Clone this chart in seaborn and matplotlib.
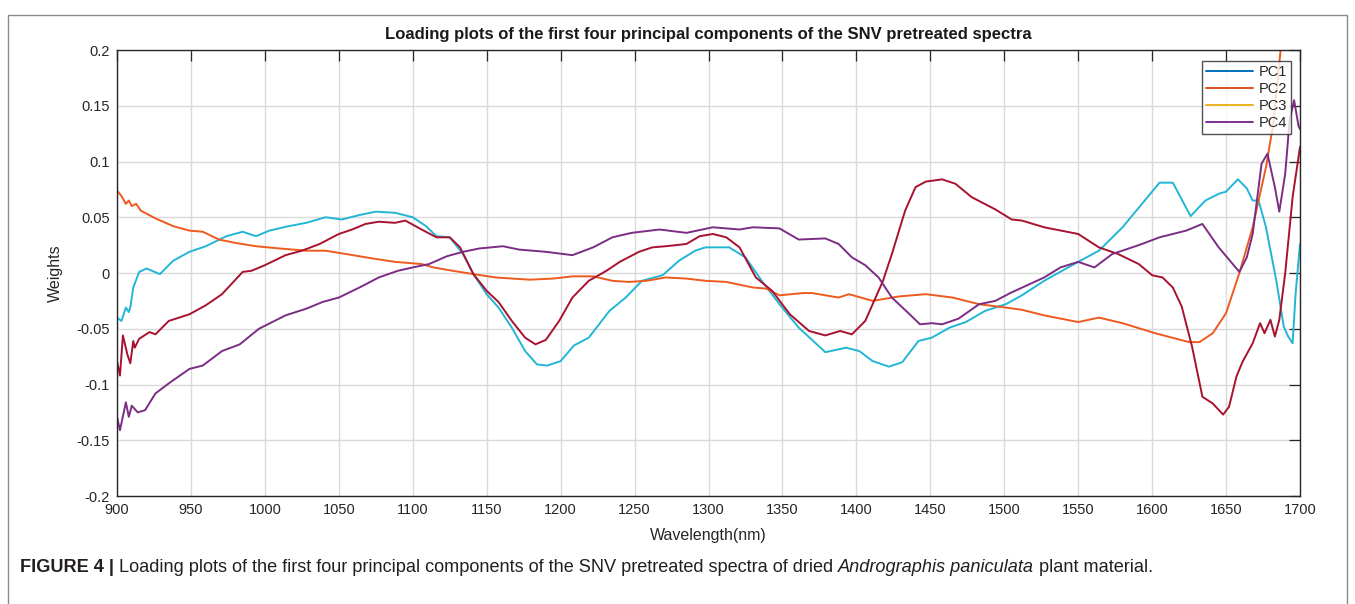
import numpy as np
import matplotlib
matplotlib.use("Agg")
import matplotlib.pyplot as plt
from matplotlib.lines import Line2D
from matplotlib.patches import Rectangle
import seaborn as sns

# loadings (wavelength in nm, weight)
pc1_nm = [900, 903, 906, 908, 909, 911, 915, 920, 929, 938, 949, 960, 974, 985, 994, 1003, 1016, 1028, 1041, 1052,
          1064, 1075, 1088, 1100, 1109, 1116, 1125, 1134, 1141, 1150, 1158, 1167, 1176, 1184, 1191, 1200, 1209, 1219,
          1233, 1244, 1255, 1269, 1280, 1291, 1298, 1314, 1325, 1336, 1348, 1361, 1379, 1393, 1402, 1411, 1422, 1431,
          1442, 1451, 1463, 1474, 1487, 1501, 1512, 1527, 1550, 1564, 1580, 1595, 1605, 1614, 1626, 1636, 1645, 1650,
          1658, 1664, 1668, 1672, 1677, 1684, 1689, 1692, 1695, 1697, 1700]
pc1_w = [-0.040, -0.043, -0.031, -0.035, -0.031, -0.013, 0.001, 0.004, -0.001, 0.011, 0.019, 0.024, 0.033, 0.037,
         0.033, 0.038, 0.042, 0.045, 0.050, 0.048, 0.052, 0.055, 0.054, 0.050, 0.042, 0.033, 0.032, 0.017, -0.001,
         -0.019, -0.031, -0.049, -0.070, -0.082, -0.083, -0.079, -0.065, -0.058, -0.034, -0.022, -0.007, -0.002,
         0.011, 0.020, 0.023, 0.023, 0.014, -0.007, -0.028, -0.049, -0.071, -0.067, -0.070, -0.079, -0.084, -0.080,
         -0.061, -0.058, -0.049, -0.044, -0.034, -0.028, -0.020, -0.007, 0.010, 0.020, 0.041, 0.065, 0.081, 0.081,
         0.051, 0.065, 0.071, 0.073, 0.084, 0.076, 0.065, 0.065, 0.041, -0.007, -0.048, -0.057, -0.063, -0.019, 0.026]

pc2_nm = [900, 903, 906, 908, 910, 913, 916, 926, 938, 949, 958, 969, 980, 994, 1010, 1028, 1041, 1055, 1073, 1088,
          1106, 1114, 1127, 1141, 1156, 1179, 1195, 1208, 1222, 1235, 1246, 1258, 1271, 1285, 1298, 1312, 1330, 1339,
          1348, 1364, 1370, 1388, 1395, 1411, 1429, 1447, 1465, 1483, 1501, 1512, 1527, 1550, 1564, 1580, 1602, 1625,
          1632, 1641, 1650, 1659, 1668, 1677, 1682, 1688]
pc2_w = [0.074, 0.069, 0.062, 0.065, 0.060, 0.062, 0.056, 0.049, 0.042, 0.038, 0.037, 0.030, 0.027, 0.024, 0.022,
         0.020, 0.020, 0.017, 0.013, 0.010, 0.008, 0.005, 0.002, -0.001, -0.004, -0.006, -0.005, -0.003, -0.003,
         -0.007, -0.008, -0.007, -0.004, -0.005, -0.007, -0.008, -0.013, -0.014, -0.020, -0.018, -0.018, -0.022,
         -0.019, -0.025, -0.021, -0.019, -0.022, -0.028, -0.031, -0.033, -0.038, -0.044, -0.040, -0.045, -0.054,
         -0.062, -0.062, -0.054, -0.036, 0.000, 0.041, 0.095, 0.134, 0.215]

pc3_nm = [900, 902, 904, 907, 909, 911, 912, 915, 922, 926, 935, 949, 960, 971, 985, 991, 1000, 1014, 1025, 1037,
          1050, 1059, 1068, 1077, 1088, 1095, 1106, 1116, 1125, 1132, 1141, 1150, 1158, 1167, 1176, 1183, 1190, 1199,
          1208, 1219, 1231, 1240, 1253, 1262, 1271, 1285, 1294, 1303, 1312, 1321, 1332, 1343, 1355, 1368, 1379, 1389,
          1397, 1406, 1413, 1418, 1424, 1433, 1440, 1447, 1458, 1467, 1478, 1494, 1505, 1512, 1527, 1550, 1564, 1577,
          1591, 1600, 1607, 1614, 1620, 1627, 1634, 1641, 1648, 1652, 1657, 1661, 1668, 1673, 1676, 1680, 1683, 1686,
          1690, 1695, 1700]
pc3_w = [-0.079, -0.092, -0.056, -0.073, -0.081, -0.061, -0.067, -0.059, -0.053, -0.055, -0.043, -0.037, -0.029,
         -0.019, 0.001, 0.002, 0.007, 0.016, 0.020, 0.026, 0.035, 0.039, 0.044, 0.046, 0.045, 0.047, 0.039, 0.032,
         0.032, 0.023, -0.001, -0.016, -0.026, -0.043, -0.058, -0.064, -0.060, -0.043, -0.022, -0.007, 0.002, 0.010,
         0.019, 0.023, 0.024, 0.026, 0.033, 0.035, 0.032, 0.023, -0.004, -0.016, -0.037, -0.052, -0.056, -0.052,
         -0.055, -0.043, -0.022, -0.007, 0.017, 0.056, 0.077, 0.082, 0.084, 0.080, 0.068, 0.057, 0.048, 0.047, 0.041,
         0.035, 0.023, 0.017, 0.008, -0.002, -0.004, -0.013, -0.030, -0.066, -0.111, -0.117, -0.127, -0.120, -0.093,
         -0.080, -0.063, -0.045, -0.054, -0.042, -0.057, -0.042, 0.000, 0.068, 0.113]

pc4_nm = [900, 902, 906, 908, 910, 914, 919, 926, 935, 949, 958, 971, 983, 996, 1014, 1028, 1039, 1050, 1064, 1077,
          1090, 1100, 1111, 1123, 1134, 1145, 1161, 1172, 1190, 1208, 1222, 1235, 1248, 1267, 1285, 1303, 1321, 1330,
          1348, 1361, 1379, 1388, 1397, 1406, 1415, 1424, 1436, 1443, 1451, 1458, 1469, 1483, 1494, 1504, 1527, 1538,
          1550, 1561, 1573, 1591, 1605, 1623, 1634, 1645, 1659, 1664, 1668, 1674, 1678, 1683, 1686, 1690, 1693, 1696,
          1699, 1700]
pc4_w = [-0.129, -0.141, -0.116, -0.129, -0.119, -0.125, -0.123, -0.108, -0.099, -0.086, -0.083, -0.070, -0.064,
         -0.050, -0.038, -0.032, -0.026, -0.022, -0.013, -0.004, 0.002, 0.005, 0.008, 0.015, 0.019, 0.022, 0.024,
         0.021, 0.019, 0.016, 0.023, 0.032, 0.036, 0.039, 0.036, 0.041, 0.039, 0.041, 0.040, 0.030, 0.031, 0.026,
         0.014, 0.007, -0.004, -0.022, -0.037, -0.046, -0.045, -0.046, -0.041, -0.028, -0.025, -0.018, -0.004, 0.005,
         0.010, 0.005, 0.017, 0.025, 0.032, 0.038, 0.044, 0.023, 0.001, 0.014, 0.035, 0.098, 0.107, 0.077, 0.055,
         0.089, 0.137, 0.155, 0.132, 0.129]

labels = ["PC1", "PC2", "PC3", "PC4"]
line_colors = ["#22B6D6", "#EE5A1E", "#A8122E", "#7B2D84"]
legend_colors = ["#0072BD", "#D95319", "#EDB120", "#7E2F8E"]

sns.set_style("white")
plt.rcParams["font.family"] = ["Liberation Sans", "DejaVu Sans"]

fig = plt.figure(figsize=(13.55, 6.04), dpi=100)
ax = fig.add_axes([117 / 1355, 1 - 496 / 604, 1183 / 1355, 446 / 604])

series = [(pc1_nm, pc1_w), (pc2_nm, pc2_w), (pc3_nm, pc3_w), (pc4_nm, pc4_w)]
for (nm, w), c in zip(series, line_colors):
    sns.lineplot(x=np.array(nm), y=np.array(w), ax=ax, color=c, linewidth=1.4, estimator=None, legend=False)

ax.set_xlim(900, 1700)
ax.set_ylim(-0.2, 0.2)
ax.set_xticks(np.arange(900, 1701, 50))
ax.set_yticks(np.arange(-0.2, 0.201, 0.05))
ax.set_yticklabels(["-0.2", "-0.15", "-0.1", "-0.05", "0", "0.05", "0.1", "0.15", "0.2"])
ax.grid(True, color="#DADADA", linewidth=1)
ax.tick_params(direction="in", length=8, width=0.9, color="#262626", labelsize=10.5, labelcolor="#262626",
               top=True, right=True, pad=5)
for s in ax.spines.values():
    s.set_color("#262626")
    s.set_linewidth(1.0)

ax.set_title("Loading plots of the first four principal components of the SNV pretreated spectra",
             fontsize=12, fontweight="bold", color="#1A1A1A", pad=8)
ax.set_xlabel("Wavelength(nm)", fontsize=11.5, color="#262626", labelpad=8)
ax.set_ylabel("Weights", fontsize=11.5, color="#262626", labelpad=10)

handles = [Line2D([], [], color=c, linewidth=1.4) for c in legend_colors]
leg = ax.legend(handles, labels, loc="upper right", bbox_to_anchor=(0.995, 0.982), fontsize=10.5,
                frameon=True, fancybox=False, handlelength=3.2, handletextpad=0.4, labelspacing=0.2,
                borderpad=0.3, borderaxespad=0.2)
leg.get_frame().set_edgecolor("#262626")
leg.get_frame().set_linewidth(1.0)

# outer frame of the figure panel
fig.patches.append(Rectangle((8 / 1355, -0.02), 1339 / 1355, 1 - 15 / 604 + 0.02, transform=fig.transFigure,
                             fill=False, edgecolor="#8A8A8A", linewidth=1.0))

# caption with mixed styles
renderer = fig.canvas.get_renderer()
cap_y = 1 - 567 / 604
x = 20 / 1355
parts = [("FIGURE 4 | ", "bold", "normal"),
         ("Loading plots of the first four principal components of the SNV pretreated spectra of dried ", "normal", "normal"),
         ("Andrographis paniculata", "normal", "italic"),
         (" plant material.", "normal", "normal")]
for txt, wt, st in parts:
    t = fig.text(x, cap_y, txt, fontsize=13.1, fontweight=wt, fontstyle=st, color="#231F20", va="center")
    bb = t.get_window_extent(renderer)
    x = bb.x1 / fig.bbox.width

fig.savefig("out.png", dpi=100)
